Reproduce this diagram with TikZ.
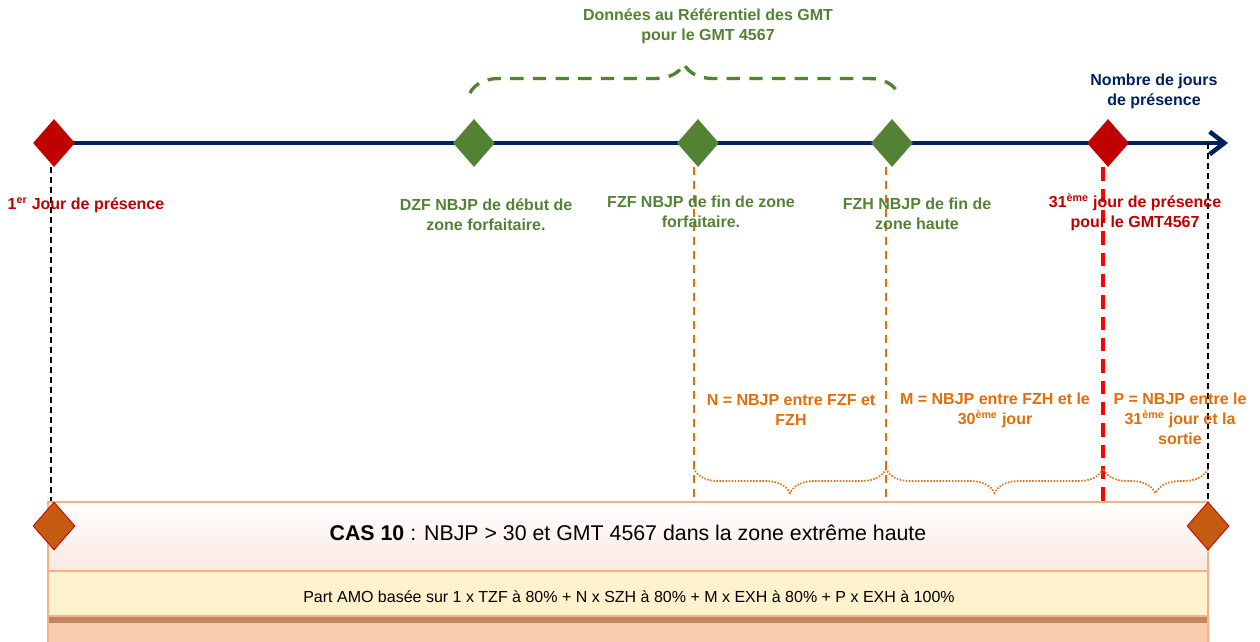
\documentclass[tikz,border=0pt]{standalone}
\usepackage{fontspec}
\setmainfont{Liberation Sans}
\usetikzlibrary{shapes.geometric,arrows.meta,decorations.pathreplacing,backgrounds}
\definecolor{navy}{RGB}{0,32,96}
\definecolor{dred}{RGB}{192,0,0}
\definecolor{gmt}{RGB}{84,130,53}
\definecolor{orng}{RGB}{228,108,10}
\definecolor{brite}{RGB}{255,0,0}
\definecolor{boxdia}{RGB}{197,90,17}
\definecolor{peachline}{RGB}{244,177,131}
\definecolor{pinkbot}{RGB}{251,232,228}
\definecolor{yel}{RGB}{255,242,204}
\definecolor{brn}{RGB}{193,134,96}
\definecolor{peach}{RGB}{248,203,173}
\begin{document}
\begin{tikzpicture}[x=0.75pt,y=-0.75pt,
  dia/.style={diamond, minimum width=31.5pt, minimum height=36pt, inner sep=0pt, draw=none},
  lbl/.style={font=\bfseries\fontsize{12}{15}\selectfont, align=center, inner sep=0pt},
  blk/.style={black, line width=1.1pt, dash pattern=on 4.5pt off 3pt},
  odash/.style={orng, line width=1.6pt, dash pattern=on 6pt off 4.5pt},
  rdash/.style={brite, line width=2.6pt, dash pattern=on 10pt off 6pt},
  gbrace/.style={gmt, line width=2.5pt, dash pattern=on 10pt off 7pt, decorate, decoration={brace, amplitude=21.75pt}},
  obrace/.style={orng, line width=1.3pt, dash pattern=on 1.1pt off 1.2pt, decorate, decoration={brace, amplitude=18pt}},
  tl/.style={navy, line width=3.4pt, -{Straight Barb[length=11pt,width=17pt]}}]
\useasboundingbox (0,0) rectangle (1260,642);
% box
\fill[peach] (48,570) rectangle (1208,642);
\shade[top color=white, bottom color=pinkbot] (48,502) rectangle (1208,570);
\fill[yel] (48,572) rectangle (1208,617);
\fill[brn] (48,617) rectangle (1208,623);
\draw[peachline, line width=1.8pt] (48,642) -- (48,502) -- (1208,502) -- (1208,642);
\draw[peachline, line width=1.8pt] (48,571) -- (1208,571);
\draw[peachline, line width=1.2pt] (48,616) -- (1208,616);
\node[font=\fontsize{16}{19}\selectfont, inner sep=0pt] (cas) at (628,533) {\textbf{CAS 10} : NBJP > 30 et GMT 4567 dans la zone extrême haute};
\node[font=\fontsize{12}{14}\selectfont, inner sep=0pt] (amo) at (629,597) {Part AMO basée sur 1 x TZF à 80\% + N x SZH à 80\% + M x EXH à 80\% + P x EXH à 100\%};
% timeline diamonds
\node[dia, fill=dred] (d1) at (54,143) {};
\node[dia, fill=gmt] (dzf) at (474,143) {};
\node[dia, fill=gmt] (fzf) at (698,143) {};
\node[dia, fill=gmt] (fzh) at (892,143) {};
\node[dia, fill=dred] (d31) at (1108,143) {};
\coordinate (tip) at (1228,143);
\begin{pgfonlayer}{background}
\draw[tl] (d1.center) -- (tip);
\end{pgfonlayer}
% box diamonds
\node[dia, fill=boxdia, draw=dred, line width=0.6pt] (bd1) at (54,526) {};
\node[dia, fill=boxdia, draw=dred, line width=0.6pt] (bd2) at (1208,526) {};
% vertical lines
\coordinate (bL) at (51,502);
\coordinate (bR) at (1208,502);
\coordinate (oA) at (694,502);
\coordinate (oB) at (886,502);
\coordinate (rA) at (1103,502);
\begin{pgfonlayer}{background}
\draw[blk] (d1.south -| bL) -- (bL);
\draw[blk] (tip -| bR) -- (bR);
\draw[odash] (fzf.south -| oA) -- (oA);
\draw[odash] (fzh.south -| oB) -- (oB);
\draw[rdash] (d31.south -| rA) -- (rA);
\end{pgfonlayer}
% braces
\coordinate (g1) at (470,93);
\coordinate (g2) at (898,93);
\draw[gbrace] (g1) -- (g2);
\coordinate (e1) at (694,469);
\coordinate (e2) at (886,469);
\coordinate (e3) at (1103,469);
\coordinate (e4) at (1208,469);
\draw[obrace] (e2) -- (e1);
\draw[obrace] (e3) -- (e2);
\draw[obrace] (e4) -- (e3);
% labels
\node[lbl, text=gmt] (tdon) at (708,26) {Données au Référentiel des GMT\\pour le GMT 4567};
\node[lbl, text=navy] (tnb) at (1154,91) {Nombre de jours\\de présence};
\node[lbl, text=dred] (t1) at (86,205) {1\textsuperscript{er} Jour de présence};
\node[lbl, text=gmt] (tdzf) at (486,215) {DZF NBJP de début de\\zone forfaitaire.};
\node[lbl, text=gmt] (tfzf) at (701,212) {FZF NBJP de fin de zone\\forfaitaire.};
\node[lbl, text=gmt] (tfzh) at (917,214) {FZH NBJP de fin de\\zone haute};
\node[lbl, text=dred] (t31) at (1135,212) {31\textsuperscript{ème} jour de présence\\pour le GMT4567};
\node[lbl, text=orng] (tn) at (791,410) {N = NBJP entre FZF et\\FZH};
\node[lbl, text=orng] (tm) at (995,410) {M = NBJP entre FZH et le\\30\textsuperscript{ème} jour};
\node[lbl, text=orng] (tp) at (1180,419) {P = NBJP entre le\\31\textsuperscript{ème} jour et la\\sortie};
\end{tikzpicture}
\end{document}
